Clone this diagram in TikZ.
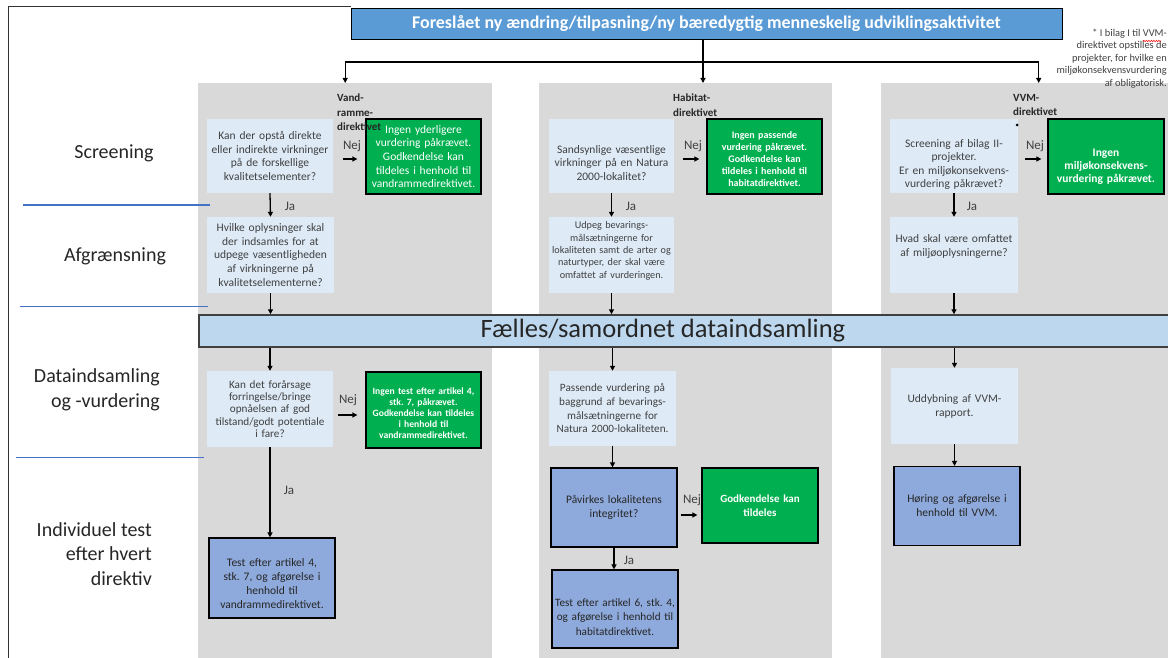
\documentclass[tikz,border=0pt]{standalone}
\usepackage{fontspec}
\setmainfont{Carlito}
\usetikzlibrary{arrows.meta,decorations.pathmorphing}
\hyphenpenalty=10000
\exhyphenpenalty=10000
\frenchspacing
\definecolor{gry}{HTML}{D9D9D9}
\definecolor{lbx}{HTML}{DEEBF7}
\definecolor{grn}{HTML}{00B050}
\definecolor{blb}{HTML}{8EA9DB}
\definecolor{banc}{HTML}{5B9BD5}
\definecolor{bnd}{HTML}{BDD7EE}
\definecolor{txt}{HTML}{404040}
\definecolor{sepc}{HTML}{4472C4}
\newcommand\dn[1]{\rule{0pt}{#1pt}}
\newcommand\up[1]{\rule[-#1pt]{0pt}{0pt}}
\begin{document}
\begin{tikzpicture}[x=1pt,y=-1pt,
 arr/.style={-{Triangle[length=5pt,width=5pt]}, line width=1.3pt, black},
 col/.style={fill=gry, draw=none, inner sep=0, anchor=north west},
 lbox/.style={fill=lbx, inner xsep=3pt, inner ysep=0pt, align=center, text=txt},
 gbox/.style={fill=grn, draw=black, line width=1.2pt, inner xsep=3pt, inner ysep=0pt, align=center, text=white},
 bbox/.style={fill=blb, draw=black, line width=1.2pt, inner xsep=3pt, inner ysep=0pt, align=center, text=black!85},
 sz/.style 2 args={text width=#1, minimum height=#2},
 fs/.style 2 args={font=\fontsize{#1}{#2}\selectfont},
 fb/.style 2 args={font=\fontsize{#1}{#2}\selectfont\bfseries},
 lab/.style={text=txt, inner sep=0, font=\fontsize{13}{15}\selectfont},
 hd/.style={font=\fontsize{11}{14.5}\selectfont\bfseries, align=left, anchor=north west, inner sep=0, text=black!85},
 side/.style={font=\fontsize{20}{24.5}\selectfont, text=black!85, inner sep=0},
 sepl/.style={draw=sepc, line width=1pt}]
\useasboundingbox (0,0) rectangle (1168,658);

% columns
\node[col, minimum width=294pt, minimum height=590pt] (c1) at (198,83) {};
\node[col, minimum width=293pt, minimum height=590pt] (c2) at (539,83) {};
\node[col, minimum width=315pt, minimum height=590pt] (c3) at (881,83) {};

% frame
\draw[line width=1pt, black!80] (351,7) -- (8,7) -- (8,662);

% banner
\node[fill=banc, draw=black, line width=1pt, minimum width=711pt, minimum height=31pt, inner sep=0, text=white, font=\fontsize{17.9}{20}\selectfont\bfseries] (ban) at (706.5,24) {Foreslået ny ændring/tilpasning/ny bæredygtig menneskelig udviklingsaktivitet};

% note
\node[anchor=north east, align=right, inner sep=0, text=txt, font=\fontsize{10.4}{12.4}\selectfont] (note) at (1167,29) {* I bilag I til VVM-\\direktivet opstilles de\\projekter, for hvilke en\\miljøkonsekvensvurdering\\af obligatorisk.};
\draw[red, line width=0.5pt, decorate, decoration={snake, amplitude=0.7pt, segment length=2.5pt}] (1143,41) -- (1161,41);

% top connectors
\coordinate (j) at (703,62);
\draw[arr] (ban.south -| j) -- (c2.north -| j);
\draw[arr, line width=1.1pt] (j) -| (c1.north);
\draw[arr, line width=1.1pt] (j) -| (c3.north);

% side labels
\node[side] (s1) at (114,153) {Screening};
\node[side] (s2) at (115,256) {Afgrænsning};
\node[side, align=right, anchor=east] (s3) at (160,390) {Dataindsamling\\og -vurdering};
\node[side, align=right, anchor=east] (s4) at (152,554) {Individuel test\\efter hvert\\direktiv};
\draw[sepl] (23,205) -- (210,205);
\draw[sepl] (20,306) -- (208,306);
\draw[sepl] (16,457) -- (204,457);

% band
\node[fill=bnd, draw=black!75, line width=1.5pt, minimum width=980pt, minimum height=32pt, inner sep=0, anchor=west] (band) at (198,331) {};
\node[inner sep=0, text=black!85, font=\fontsize{26.5}{30}\selectfont] (bandt) at (663,331) {Fælles/samordnet dataindsamling};

% ---------- column 1
\node[lbox, sz={120pt}{74pt}, fs={11.5}{13.8}] (q11) at (270,156) {Kan der opstå direkte\\eller indirekte virkninger\\på de forskellige\\kvalitetselementer?};
\node[gbox, sz={109pt}{75pt}, fs={11.5}{13.7}] (g11) at (423.5,156.5) {Ingen yderligere\\vurdering påkrævet.\\Godkendelse kan\\tildeles i henhold til\\vandrammedirektivet.};
\node[hd] (h1) at (337,94) {Vand-\\ramme-\\direktivet};
\node[lbox, sz={121pt}{76pt}, fs={11.5}{13.8}] (q12) at (270.5,255) {Hvilke oplysninger skal\\der indsamles for at\\udpege væsentligheden\\af virkningerne på\\kvalitetselementerne?};
\node[lbox, sz={120pt}{76pt}, fs={11.2}{12.4}] (q13) at (270,409) {Kan det forårsage\\forringelse/bringe\\opnåelsen af god\\tilstand/godt potentiale\\i fare?};
\node[gbox, sz={109pt}{76pt}, fb={9.6}{11.2}] (g12) at (423.5,410) {\dn{13}Ingen test efter artikel 4,\\stk. 7, påkrævet.\\Godkendelse kan tildeles\\i henhold til\\vandrammedirektivet.};
\node[bbox, sz={120pt}{80pt}, fs={11.5}{14}] (t1) at (272,578) {\dn{20}Test efter artikel 4,\\stk. 7, og afgørelse i\\henhold til\\vandrammedirektivet.};

\draw[arr] (q11.south) -- (q12.north);
\draw[arr] (q12.south) -- (q12.south |- band.north);
\draw[arr] (q13.north |- band.south) -- (q13.north);
\draw[arr] (q13.south) -- (q13.south |- t1.north);
\draw[arr, shorten <=10pt, shorten >=8pt] ([yshift=-3pt]q11.east) -- ([yshift=-3pt]q11.east -| g11.west);
\draw[arr, shorten <=5pt, shorten >=8pt] ([yshift=-6pt]q13.east) -- ([yshift=-6pt]q13.east -| g12.west);
\node[lab] (n11) at (352,146) {Nej};
\node[lab] (n12) at (348,400) {Nej};
\node[lab] (y11) at (290,206) {Ja};
\node[lab] (y12) at (289,490) {Ja};

% ---------- column 2
\node[lbox, sz={119pt}{74pt}, fs={11.5}{13.5}] (q21) at (611.5,156) {\dn{22}Sandsynlige væsentlige\\virkninger på en Natura\\2000-lokalitet?};
\node[gbox, sz={109pt}{75pt}, fb={10}{12}] (g21) at (764.5,156.5) {\dn{13}Ingen passende\\vurdering påkrævet.\\Godkendelse kan\\tildeles i henhold til\\habitatdirektivet.};
\node[hd] (h2) at (673,94) {Habitat-\\direktivet};
\node[lbox, sz={119pt}{76pt}, fs={10.2}{12.4}] (q22) at (611.5,255) {Udpeg bevarings-\\målsætningerne for\\lokaliteten samt de arter og\\naturtyper, der skal være\\omfattet af vurderingen.\up{10}};
\node[lbox, sz={121pt}{75pt}, fs={11.2}{13.7}] (q23) at (612.5,408.5) {Passende vurdering på\\baggrund af bevarings-\\målsætningerne for\\Natura 2000-lokaliteten.};
\node[bbox, sz={120pt}{79pt}, fs={11.5}{14}] (b21) at (614,507.5) {Påvirkes lokalitetens\\integritet?};
\node[gbox, sz={110pt}{75pt}, fb={11}{14}] (g22) at (760,505.5) {Godkendelse kan\\tildeles};
\node[bbox, inner xsep=1pt, sz={124pt}{78pt}, fs={11.2}{14.5}] (t2) at (615,609) {\dn{24}Test efter artikel 6, stk. 4,\\og afgørelse i henhold til\\habitatdirektivet.};

\draw[arr] (q21.south) -- (q22.north);
\draw[arr] (q22.south) -- (q22.south |- band.north);
\draw[arr] (q23.north |- band.south) -- (q23.north);
\draw[arr] (q23.south) -- (q23.south |- b21.north);
\draw[arr] (b21.south) -- (b21.south |- t2.north);
\draw[arr, shorten <=9pt, shorten >=7pt] ([yshift=-3pt]q21.east) -- ([yshift=-3pt]q21.east -| g21.west);
\draw[arr, shorten <=3pt, shorten >=4pt] ([yshift=-7.5pt]b21.east) -- ([yshift=-7.5pt]b21.east -| g22.west);
\node[lab] (n21) at (693,146) {Nej};
\node[lab] (n22) at (692,500) {Nej};
\node[lab] (y21) at (631,206) {Ja};
\node[lab] (y22) at (629,560) {Ja};

% ---------- column 3
\node[lbox, sz={122pt}{74pt}, fs={11.5}{13.3}] (q31) at (954,156) {\dn{25}Screening af bilag II-\\projekter.\\Er en miljøkonsekvens-\\vurdering påkrævet?};
\node[gbox, sz={110pt}{75pt}, fb={11.5}{13}] (g31) at (1106,156.5) {\dn{28}Ingen\\miljøkonsekvens-\\vurdering påkrævet.};
\node[hd] (h3) at (1013,94) {VVM-\\direktivet};
\fill (1017,125) circle (1.5pt);
\node[lbox, sz={122pt}{76pt}, fs={11.5}{14}] (q32) at (954,255) {Hvad skal være omfattet\\af miljøoplysningerne?\up{19}};
\node[lbox, sz={121pt}{76pt}, fs={11.5}{14}] (q33) at (954.5,406) {Uddybning af VVM-\\rapport.};
\node[bbox, sz={120pt}{79pt}, fs={11.5}{14}] (b31) at (957,506) {Høring og afgørelse i\\henhold til VVM.};

\draw[arr] (q31.south) -- (q32.north);
\draw[arr] (q32.south) -- (q32.south |- band.north);
\draw[arr] (q33.north |- band.south) -- (q33.north);
\draw[arr] (q33.south) -- (q33.south |- b31.north);
\draw[arr, shorten <=7pt, shorten >=6pt] ([yshift=-3pt]q31.east) -- ([yshift=-3pt]q31.east -| g31.west);
\node[lab] (n31) at (1035,146) {Nej};
\node[lab] (y31) at (972,206) {Ja};
\end{tikzpicture}
\end{document}
